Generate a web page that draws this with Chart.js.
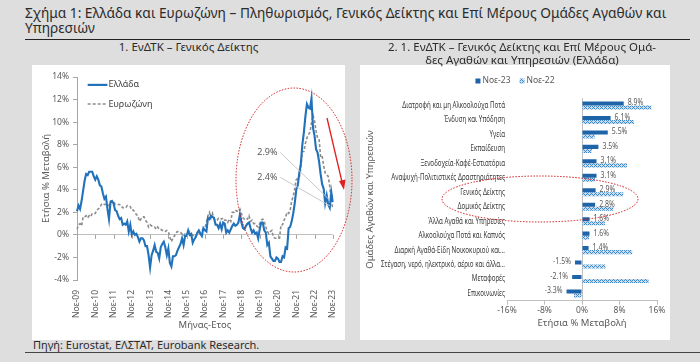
<!DOCTYPE html>
<html><head><meta charset="utf-8">
<script src="https://cdn.jsdelivr.net/npm/chart.js@4"></script>
<style>
html,body{margin:0;padding:0;}
body{width:700px;height:362px;background:#dedede;position:relative;overflow:hidden;font-family:"Noto Sans",sans-serif;color:#2b2b2b;}
#title{position:absolute;left:25px;top:6px;width:662px;font-size:13.7px;line-height:14.5px;}
#rule1{position:absolute;left:25px;top:39px;width:665px;height:1px;background:#222;}
.st{position:absolute;text-align:center;font-size:11.5px;line-height:13px;z-index:3;}
#st1{left:32px;top:40px;width:313px;}
#st2{left:352px;top:40px;width:340px;}
.panel{position:absolute;background:#fff;z-index:0;}
#p1{left:32px;top:65px;width:313px;height:275px;}
#p2{left:360px;top:65px;width:310px;height:275px;}
canvas{position:absolute;z-index:1;}
#c1{left:32px;top:62px;}
#c2{left:360px;top:62px;}
#src{position:absolute;left:33px;top:338px;font-size:11px;line-height:14px;}
#rule2{position:absolute;left:25px;top:352px;width:675px;height:1px;background:#444;}
#ov{position:absolute;left:0;top:0;pointer-events:none;z-index:4;}
</style></head>
<body>
<div id="title">Σχήμα 1: Ελλάδα και Ευρωζώνη – Πληθωρισμός, Γενικός Δείκτης και Επί Μέρους Ομάδες Αγαθών και Υπηρεσιών</div>
<div id="rule1"></div>
<div class="panel" id="p1"></div>
<div class="panel" id="p2"></div>
<div class="st" id="st1">1. ΕνΔΤΚ – Γενικός Δείκτης</div>
<div class="st" id="st2">2. 1. ΕνΔΤΚ – Γενικός Δείκτης και Επί Μέρους Ομά-<br>δες Αγαθών και Υπηρεσιών (Ελλάδα)</div>
<canvas id="c1" width="313" height="278"></canvas>
<canvas id="c2" width="310" height="278"></canvas>
<div id="src">Πηγή: Eurostat, ΕΛΣΤΑΤ, Eurobank Research.</div>
<div id="rule2"></div>
<svg id="ov" width="700" height="362">
  <ellipse cx="294" cy="180" rx="58" ry="92" fill="none" stroke="#d01818" stroke-width="1" stroke-dasharray="1.5,1.5"/>
  <ellipse cx="540" cy="199" rx="98" ry="23" fill="none" stroke="#d01818" stroke-width="1" stroke-dasharray="1.5,1.5"/>
  <line x1="327" y1="118" x2="342" y2="182" stroke="#e02020" stroke-width="1.3"/>
  <polygon points="344,190 339,181 345.5,179.5" fill="#e02020"/>
</svg>
<script>
// ---------- data ----------
const monthAbbr = ['Ιαν','Φεβ','Μαρ','Απρ','Μαϊ','Ιουν','Ιουλ','Αυγ','Σεπ','Οκτ','Νοε','Δεκ'];
const firstYear = 2009, firstMonth = 10; // Νοε-09
const greeceCPI = [
 2.1, 2.6,
 2.3, 3.0, 3.9, 4.8, 5.4, 5.3, 5.6, 5.6, 5.6, 5.2, 4.9, 5.2,
 4.9, 4.4, 4.3, 3.7, 3.2, 3.4, 2.3, 1.4, 2.9, 3.0, 2.8, 2.2,
 2.1, 1.7, 1.4, 1.5, 0.9, 1.0, 0.9, 1.2, 0.3, 0.9, 0.0, 0.3,
 0.0, 0.1, -0.2, -0.6, -0.3, -0.3, -0.5, -1.0, -1.0, -1.8, -2.9, -1.8,
 -1.4, -0.9, -1.5, -1.6, -2.1, -1.1, -0.8, -0.6, -1.1, -1.8, -1.2, -2.5,
 -2.8, -1.9, -1.9, -1.8, -1.4, -1.1, -0.8, -0.3, -0.9, -0.1, -0.1, 0.4,
 0.0, 0.1, -0.7, -0.4, -0.2, 0.2, 0.4, 0.1, -0.1, 0.6, 0.4, 0.3,
 1.5, 1.4, 1.7, 1.6, 1.5, 0.9, 0.9, 0.6, 1.0, 0.5, 1.1, 1.0,
 0.2, 0.4, 0.2, 0.5, 0.8, 1.0, 0.8, 0.9, 1.1, 1.8, 1.1, 0.6,
 0.5, 0.8, 1.0, 1.1, 0.6, 0.2, 0.4, 0.1, 0.2, -0.3, 0.5, 1.1,
 1.1, 0.4, 0.2, -0.9, -0.7, -1.9, -2.1, -2.3, -2.3, -2.0, -2.1, -2.4,
 -2.4, -1.9, -2.0, -1.1, -1.2, 0.6, 0.7, 1.2, 1.9, 2.8, 4.0, 4.4,
 5.5, 6.3, 8.0, 9.1, 10.5, 11.6, 11.3, 11.2, 12.1, 9.5, 8.8, 7.6,
 7.3, 6.5, 5.4, 4.5, 4.1, 2.8, 3.5, 2.7, 2.4, 3.8, 2.9
];
const euroCPI = [
 0.5, 0.9,
 1.0, 0.8, 1.6, 1.6, 1.7, 1.5, 1.7, 1.6, 1.9, 1.9, 1.9, 2.2,
 2.3, 2.4, 2.7, 2.8, 2.7, 2.7, 2.6, 2.6, 3.0, 3.0, 3.0, 2.7,
 2.7, 2.7, 2.7, 2.6, 2.4, 2.4, 2.4, 2.6, 2.6, 2.5, 2.2, 2.2,
 2.0, 1.8, 1.7, 1.2, 1.4, 1.6, 1.6, 1.3, 1.1, 0.7, 0.9, 0.8,
 0.7, 0.7, 0.5, 0.7, 0.5, 0.5, 0.4, 0.4, 0.3, 0.4, 0.3, -0.2,
 -0.6, -0.3, -0.1, 0.2, 0.3, 0.2, 0.2, 0.1, -0.1, 0.1, 0.1, 0.2,
 0.3, -0.2, 0.0, -0.2, -0.1, 0.1, 0.2, 0.2, 0.4, 0.5, 0.6, 1.1,
 1.7, 2.0, 1.5, 1.9, 1.4, 1.3, 1.3, 1.5, 1.5, 1.4, 1.5, 1.3,
 1.3, 1.1, 1.4, 1.2, 2.0, 2.0, 2.2, 2.1, 2.1, 2.3, 1.9, 1.5,
 1.4, 1.5, 1.4, 1.7, 1.2, 1.3, 1.0, 1.0, 0.8, 0.7, 1.0, 1.3,
 1.4, 1.2, 0.7, 0.3, 0.1, 0.3, 0.4, -0.2, -0.3, -0.3, -0.3, -0.3,
 0.9, 0.9, 1.3, 1.6, 2.0, 1.9, 2.2, 3.0, 3.4, 4.1, 4.9, 5.0,
 5.1, 5.9, 7.4, 7.4, 8.1, 8.6, 8.9, 9.1, 9.9, 10.6, 10.1, 9.2,
 8.6, 8.5, 6.9, 7.0, 6.1, 5.5, 5.3, 5.2, 4.3, 2.9, 2.4
];
const leftYTicks = {min:-4, max:14, step:2};
const annotGreece = '2.9%';
const annotEuro = '2.4%';

const groupLabels = [
 'Διατροφή και μη Αλκοολούχα Ποτά','Ένδυση και Υπόδηση','Υγεία','Εκπαίδευση',
 'Ξενοδοχεία-Καφέ-Εστιατόρια','Αναψυχή-Πολιτιστικές Δραστηριότητες','Γενικός Δείκτης',
 'Δομικός Δείκτης','Άλλα Αγαθά και Υπηρεσίες','Αλκοολούχα Ποτά και Καπνός',
 'Διαρκή Αγαθά-Είδη Νοικοκυριού και...','Στέγαση, νερό, ηλεκτρικό, αέριο και άλλα...',
 'Μεταφορές','Επικοινωνίες'
];
const nov23 = [8.9, 6.1, 5.5, 3.5, 3.1, 3.1, 2.9, 2.8, 1.6, 1.6, 1.4, -1.5, -2.1, -3.3];
const nov22 = [14.8, 11.1, 2.7, 2.1, 9.6, 2.8, 8.8, 6.7, 4.9, 1.5, 10.7, 5.0, 14.2, -1.7];
const seriesNames = ['Νοε-23', 'Νοε-22'];
const rightXTicks = {min:-16, max:16, step:4};

// ---------- build labels ----------
const monthLabels = greeceCPI.map((_, i) => {
  const m = (firstMonth + i) % 12;
  const y = firstYear + Math.floor((firstMonth + i) / 12);
  return monthAbbr[m] + '-' + String(y % 100).padStart(2, '0');
});

const FONT = '"Noto Sans", sans-serif';
const GREY = '#595959';
const BLUE = '#2172ba';

// ---------- left chart ----------
const leftDecor = {
  id: 'leftDecor',
  afterDraw(chart) {
    const ctx = chart.ctx, xs = chart.scales.x, ys = chart.scales.y;
    const y0 = ys.getPixelForValue(0);
    ctx.save();
    ctx.strokeStyle = '#a6a6a6'; ctx.lineWidth = 1;
    for (let i = 0; i < monthLabels.length; i += 12) {
      const x = Math.round(xs.getPixelForValue(i)) + 0.5;
      ctx.beginPath(); ctx.moveTo(x, y0); ctx.lineTo(x, y0 + 4); ctx.stroke();
    }
    const lx = xs.getPixelForValue(7), lx2 = xs.getPixelForValue(20);
    ctx.font = '9px ' + FONT; ctx.fillStyle = '#404040'; ctx.textBaseline = 'middle';
    const ly1 = ys.getPixelForValue(13.3), ly2 = ys.getPixelForValue(11.6);
    ctx.strokeStyle = BLUE; ctx.lineWidth = 2.2; ctx.setLineDash([]);
    ctx.beginPath(); ctx.moveTo(lx, ly1); ctx.lineTo(lx2, ly1); ctx.stroke();
    ctx.fillText('Ελλάδα', lx2 + 1, ly1);
    ctx.strokeStyle = '#8c8c8c'; ctx.lineWidth = 1.6; ctx.setLineDash([3, 2]);
    ctx.beginPath(); ctx.moveTo(lx, ly2); ctx.lineTo(lx2, ly2); ctx.stroke();
    ctx.setLineDash([]);
    ctx.fillText('Ευρωζώνη', lx2 + 1, ly2);
    const last = monthLabels.length - 1;
    const px = xs.getPixelForValue(last);
    const pG = ys.getPixelForValue(greeceCPI[last]);
    const pE = ys.getPixelForValue(euroCPI[last]);
    const ax = xs.getPixelForValue(125);
    const aG = ys.getPixelForValue(7.3), aE = ys.getPixelForValue(5.1);
    ctx.font = '9px ' + FONT; ctx.fillStyle = GREY; ctx.textAlign = 'center';
    ctx.fillText(annotGreece, ax, aG);
    ctx.fillText(annotEuro, ax, aE);
    ctx.strokeStyle = '#c8c8c8'; ctx.lineWidth = 1;
    ctx.beginPath(); ctx.moveTo(ax + 13, aG); ctx.lineTo(px - 4, pG - 3); ctx.stroke();
    ctx.beginPath(); ctx.moveTo(ax + 13, aE); ctx.lineTo(px - 3, pE - 2); ctx.stroke();
    ctx.restore();
  }
};

new Chart(document.getElementById('c1'), {
  type: 'line',
  data: {
    labels: monthLabels,
    datasets: [
      {label: 'Ελλάδα', data: greeceCPI, borderColor: BLUE, borderWidth: 2.1, pointRadius: 0, tension: 0, fill: false},
      {label: 'Ευρωζώνη', data: euroCPI, borderColor: '#8c8c8c', borderWidth: 1.6, borderDash: [3, 2], pointRadius: 0, tension: 0, fill: false}
    ]
  },
  options: {
    responsive: false, animation: false, devicePixelRatio: 1,
    layout: {padding: {left: 5, right: 10, top: 15, bottom: 5}},
    plugins: {legend: {display: false}, tooltip: {enabled: false}},
    scales: {
      x: {
        grid: {display: false}, border: {display: false},
        ticks: {
          autoSkip: false, maxRotation: 90, minRotation: 90, padding: 2,
          color: GREY, font: {family: FONT, size: 8.5},
          callback: function(v, i) { return i % 12 === 0 ? this.getLabelForValue(v) : null; }
        },
        title: {display: true, text: 'Μήνας-Ετος', color: GREY, font: {family: FONT, size: 9.5}, padding: {top: 0, bottom: 4}},
        afterFit(s) { s.height = 55; }
      },
      y: {
        min: leftYTicks.min, max: leftYTicks.max,
        ticks: {stepSize: leftYTicks.step, color: GREY, font: {family: FONT, size: 8.5}, padding: 4, callback: v => v + '%'},
        grid: {
          color: c => (c.tick && c.tick.value === 0) ? '#bfbfbf' : 'rgba(0,0,0,0)',
          tickColor: '#a6a6a6', tickLength: 4, drawTicks: true
        },
        border: {display: true, color: '#a6a6a6'},
        title: {display: true, text: 'Ετήσια % Μεταβολή', color: GREY, font: {family: FONT, size: 9.5}, padding: {top: 4, bottom: 0}},
        afterFit(s) { s.width = 40; }
      }
    }
  },
  plugins: [leftDecor]
});

// ---------- right chart ----------
function makeHatch() {
  const c = document.createElement('canvas'); c.width = 4; c.height = 4;
  const g = c.getContext('2d');
  g.fillStyle = '#c9def2'; g.fillRect(0, 0, 4, 4);
  g.fillStyle = '#3f88cc';
  [[0,0],[1,1],[2,2],[3,3],[2,0],[0,2]].forEach(p => g.fillRect(p[0], p[1], 1, 1));
  return document.getElementById('c2').getContext('2d').createPattern(c, 'repeat');
}
const DARK = '#1f64a8';
const hatchFill = makeHatch();

const rightDecor = {
  id: 'rightDecor',
  afterDraw(chart) {
    const ctx = chart.ctx, ys = chart.scales.y, area = chart.chartArea;
    ctx.save();
    ctx.font = '8.5px ' + FONT; ctx.fillStyle = '#3a3a3a'; ctx.textBaseline = 'middle'; ctx.textAlign = 'right';
    let maxW = 0; groupLabels.forEach(l => { maxW = Math.max(maxW, ctx.measureText(l).width); });
    const sx = 124 / maxW;
    groupLabels.forEach((l, i) => {
      const y = ys.getPixelForValue(i);
      ctx.save(); ctx.translate(area.left - 2, y); ctx.scale(sx, 1); ctx.fillText(l, 0, 0); ctx.restore();
    });
    const meta = chart.getDatasetMeta(0);
    ctx.font = '8.5px ' + FONT; ctx.fillStyle = GREY;
    meta.data.forEach((bar, i) => {
      const v = nov23[i];
      const txt = v.toFixed(1) + '%';
      ctx.save();
      if (v >= 0) { ctx.textAlign = 'left'; ctx.translate(bar.x + 4, bar.y - 0.5); }
      else { ctx.textAlign = 'right'; ctx.translate(bar.x - 4, bar.y - 0.5); }
      ctx.scale(0.82, 1); ctx.fillText(txt, 0, 0); ctx.restore();
    });
    ctx.font = '8.5px ' + FONT; ctx.textAlign = 'left';
    const w1 = ctx.measureText(seriesNames[0]).width, w2 = ctx.measureText(seriesNames[1]).width;
    const sq = 5, gap = 2, sep = 9;
    const total = sq + gap + w1 + sep + sq + gap + w2;
    let x = chart.width / 2 - total / 2; const y = 19;
    ctx.fillStyle = DARK; ctx.fillRect(x, y - sq / 2, sq, sq);
    x += sq + gap; ctx.fillStyle = GREY; ctx.fillText(seriesNames[0], x, y);
    x += w1 + sep; ctx.fillStyle = hatchFill; ctx.fillRect(x, y - sq / 2, sq, sq);
    x += sq + gap; ctx.fillStyle = GREY; ctx.fillText(seriesNames[1], x, y);
    ctx.restore();
  }
};

new Chart(document.getElementById('c2'), {
  type: 'bar',
  data: {
    labels: groupLabels,
    datasets: [
      {label: seriesNames[0], data: nov23, backgroundColor: DARK, categoryPercentage: 0.56, barPercentage: 1},
      {label: seriesNames[1], data: nov22, backgroundColor: hatchFill, categoryPercentage: 0.56, barPercentage: 1}
    ]
  },
  options: {
    indexAxis: 'y',
    responsive: false, animation: false, devicePixelRatio: 1,
    layout: {padding: {left: 4, right: 13, top: 36.3, bottom: 4}},
    plugins: {legend: {display: false}, tooltip: {enabled: false}},
    scales: {
      x: {
        min: rightXTicks.min, max: rightXTicks.max,
        ticks: {stepSize: rightXTicks.step, color: GREY, font: {family: FONT, size: 8.5}, padding: 1, callback: v => v + '%', maxRotation: 0},
        grid: {
          color: c => (c.tick && c.tick.value === 0) ? '#bfbfbf' : 'rgba(0,0,0,0)',
          tickColor: '#bfbfbf', tickLength: 4
        },
        border: {display: true, color: '#bfbfbf'},
        title: {display: true, text: 'Ετήσια % Μεταβολή', color: GREY, font: {family: FONT, size: 9.5}, padding: {top: 0, bottom: 7}},
        afterFit(s) { s.height = 35.3; }
      },
      y: {
        grid: {display: false}, border: {display: false},
        ticks: {display: false},
        title: {display: true, text: 'Ομάδες Αγαθών και Υπηρεσιών', color: GREY, font: {family: FONT, size: 9.5}, padding: {top: 1, bottom: 0}},
        afterFit(s) { s.width = 143; }
      }
    }
  },
  plugins: [rightDecor]
});
</script>
</body></html>
